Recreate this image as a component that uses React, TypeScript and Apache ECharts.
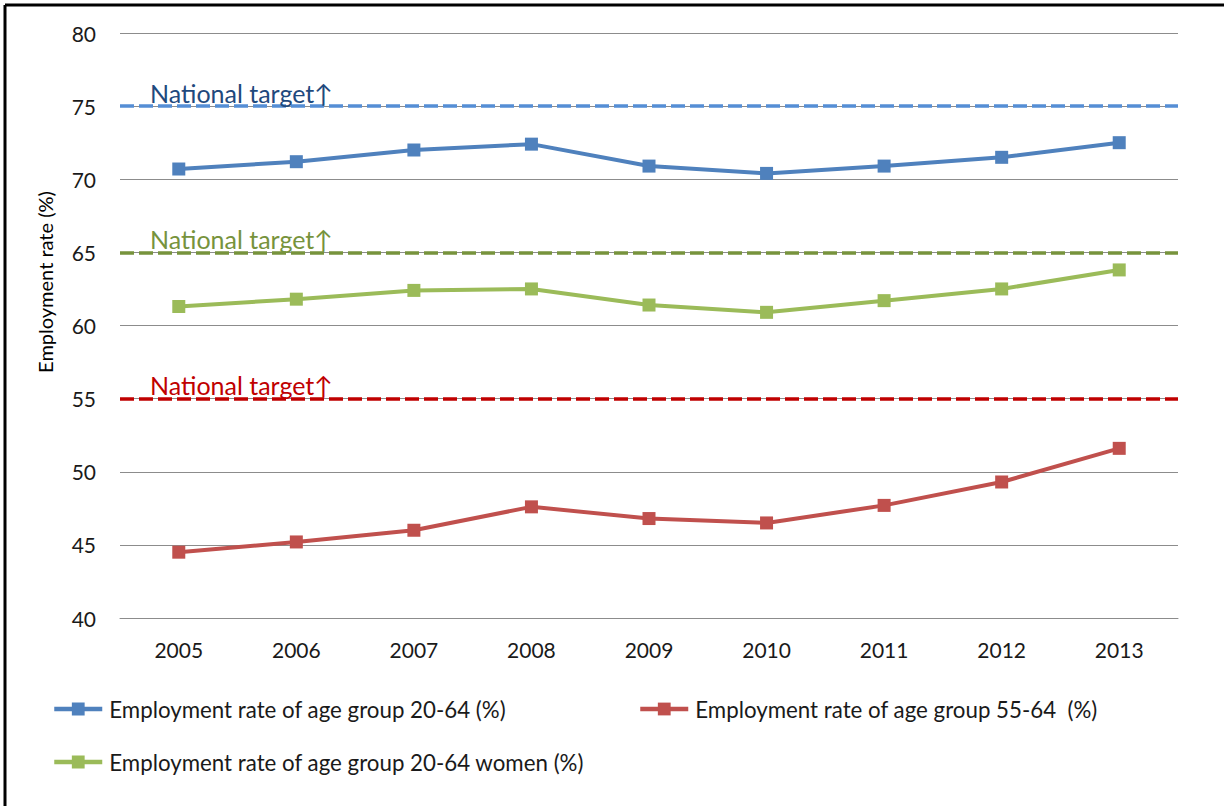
import React, { useEffect, useRef } from "react";
import * as echarts from "echarts";

const years = ["2005", "2006", "2007", "2008", "2009", "2010", "2011", "2012", "2013"];
const total2064 = [70.7, 71.2, 72.0, 72.4, 70.9, 70.4, 70.9, 71.5, 72.5];
const older5564 = [44.5, 45.2, 46.0, 47.6, 46.8, 46.5, 47.7, 49.3, 51.6];
const women2064 = [61.3, 61.8, 62.4, 62.5, 61.4, 60.9, 61.7, 62.5, 63.8];
const targets = { total: 75, women: 65, older: 55 };
const targetLabel = "National target\u2191";
const names = [
  "Employment rate of age group 20-64 (%)",
  "Employment rate of age group 55-64  (%)",
  "Employment rate of age group 20-64 women (%)",
];

const FONT = "Lato";

function makeSeries(name: string, data: number[], color: string, target: number, tColor: string, lColor: string) {
  return {
    name,
    type: "line",
    data,
    symbol: "rect",
    symbolSize: 13,
    lineStyle: { color, width: 4 },
    itemStyle: { color },
    markLine: {
      silent: true,
      symbol: ["none", "none"],
      lineStyle: { color: tColor, width: 3.5, type: [14, 5] },
      label: {
        show: true,
        position: "insideStartTop",
        formatter: targetLabel,
        color: lColor,
        fontFamily: FONT,
        fontSize: 25,
        distance: [30, 1],
      },
      data: [{ yAxis: target }],
    },
  };
}

export default function App() {
  const ref = useRef<HTMLDivElement>(null);
  useEffect(() => {
    const chart = echarts.init(ref.current!, null, { renderer: "svg" });
    const legendBase = {
      itemWidth: 48,
      itemHeight: 16,
      itemGap: 5,
      padding: 0,
      lineStyle: { width: 4.5 },
      textStyle: { fontFamily: FONT, fontSize: 22.3, color: "#1a1a1a", padding: [0, 0, 0, 2] },
    };
    chart.setOption({
      animation: false,
      backgroundColor: "#fff",
      textStyle: { fontFamily: FONT },
      grid: { left: 120, right: 46, top: 33, bottom: 806 - 618 },
      xAxis: {
        type: "category",
        data: years,
        boundaryGap: true,
        axisLine: { show: true, lineStyle: { color: "#8c8c8c", width: 1 } },
        axisTick: { show: false },
        axisLabel: { fontFamily: FONT, fontSize: 21, color: "#1a1a1a", margin: 21 },
      },
      yAxis: {
        type: "value",
        min: 40,
        max: 80,
        interval: 5,
        axisLine: { show: false },
        axisTick: { show: false },
        splitLine: { lineStyle: { color: "#8c8c8c", width: 1 } },
        axisLabel: { fontFamily: FONT, fontSize: 21, color: "#1a1a1a", margin: 24 },
      },
      legend: [
        { ...legendBase, data: [names[0]], left: 52, top: 698 },
        { ...legendBase, data: [names[1]], left: 638, top: 698 },
        { ...legendBase, data: [names[2]], left: 52, top: 751 },
      ],
      graphic: [
        {
          type: "text",
          x: 45,
          y: 282,
          rotation: Math.PI / 2,
          style: {
            text: "Employment rate (%)",
            fontFamily: FONT,
            fontSize: 20,
            fill: "#000",
            textAlign: "center",
            textVerticalAlign: "middle",
          },
        },
        { type: "line", shape: { x1: 5, y1: 5, x2: 1224, y2: 5 }, style: { stroke: "#000", lineWidth: 3 } },
        { type: "line", shape: { x1: 5, y1: 5, x2: 5, y2: 806 }, style: { stroke: "#000", lineWidth: 3 } },
      ],
      series: [
        makeSeries(names[0], total2064, "#4F81BD", targets.total, "#558ED5", "#1F497D"),
        makeSeries(names[1], older5564, "#C0504D", targets.older, "#C00000", "#C00000"),
        makeSeries(names[2], women2064, "#9BBB59", targets.women, "#77933C", "#77933C"),
      ],
    });
    return () => chart.dispose();
  }, []);
  return <div ref={ref} style={{ position: "fixed", left: 0, top: 0, width: 1224, height: 806 }} />;
}
